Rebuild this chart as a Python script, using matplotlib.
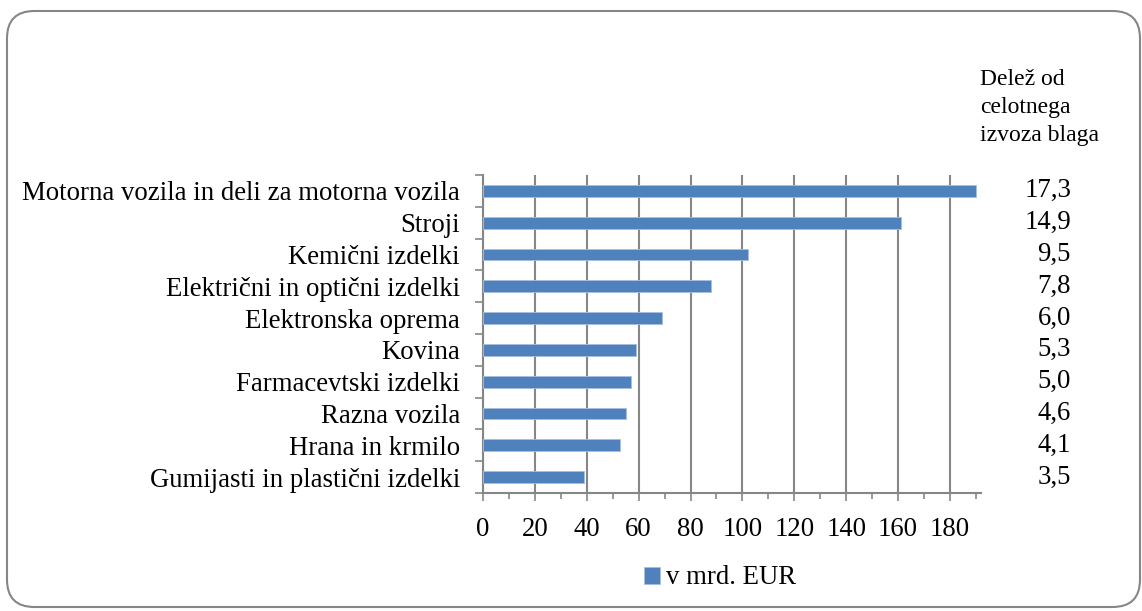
import matplotlib
matplotlib.use("Agg")
import matplotlib.pyplot as plt
import matplotlib.transforms as mtransforms
from matplotlib.patches import FancyBboxPatch
import numpy as np

categories = ["Motorna vozila in deli za motorna vozila", "Stroji", "Kemični izdelki",
              "Električni in optični izdelki", "Elektronska oprema", "Kovina",
              "Farmacevtski izdelki", "Razna vozila", "Hrana in krmilo",
              "Gumijasti in plastični izdelki"]
values = [190, 161, 102, 88, 69, 59, 57, 55, 53, 39]
shares = ["17,3", "14,9", "9,5", "7,8", "6,0", "5,3", "5,0", "4,6", "4,1", "3,5"]
xticks = [0, 20, 40, 60, 80, 100, 120, 140, 160, 180]
legend_label = "v mrd. EUR"
share_header = "Delež od\ncelotnega\nizvoza blaga"

plt.rcParams['font.family'] = ['Liberation Serif', 'DejaVu Serif']

W, H = 1142, 611
fig = plt.figure(figsize=(W/100, H/100), dpi=100)

# rounded border
border = FancyBboxPatch((7/W, 4/H), (1140-7)/W, (H-11-4)/H,
                        boxstyle="round,pad=0,rounding_size=0.024",
                        transform=fig.transFigure, facecolor='white',
                        edgecolor='#868686', linewidth=1.5, mutation_aspect=W/H,
                        zorder=-10)
fig.patches.append(border)

left, right, top, bottom = 483/W, 981/W, 1-175/H, 1-493/H
ax = fig.add_axes([left, bottom, right-left, top-bottom])
ax.set_facecolor('none')
ax.set_zorder(5)

n = len(categories)
y = np.arange(n)[::-1]
bar_color = '#4F81BD'
ax.barh(y, values, height=0.37, color=bar_color, edgecolor='#A7C0DE', linewidth=0.6,
        label=legend_label, zorder=3)
ax.set_xlim(0, 192)
ax.set_ylim(-0.5, n-0.5)

gridc = '#868686'
fs = 19.3
ax.set_xticks(xticks)
ax.set_xticks(np.arange(10, 191, 10), minor=True)
ax.grid(axis='x', which='major', color=gridc, linewidth=1.5, zorder=1)
ax.set_xticklabels([str(t) for t in xticks], fontsize=fs)
ax.tick_params(axis='x', which='major', length=6, width=1.2, color=gridc, direction='out', pad=11)
ax.tick_params(axis='x', which='minor', length=4, width=1.2, color=gridc, direction='out')

ax.set_yticks(np.arange(-0.5, n, 1.0))
ax.set_yticklabels([])
ax.tick_params(axis='y', which='major', length=6, width=1.2, color=gridc, direction='out')
ax.set_yticks(y, minor=True)
ax.set_yticklabels(categories, minor=True, fontsize=fs)
ax.tick_params(axis='y', which='minor', length=0, pad=16.5)

for s in ['top', 'right']:
    ax.spines[s].set_visible(False)
for s in ['left', 'bottom']:
    ax.spines[s].set_color(gridc)
    ax.spines[s].set_linewidth(1.5)

# share labels
trans = mtransforms.blended_transform_factory(fig.transFigure, ax.transData)
for yi, s in zip(y, shares):
    ax.text(1071/W, yi, s, transform=trans, ha='right', va='center', fontsize=fs, clip_on=False)
fig.text(980/W, 1-69/H, share_header, ha='left', va='top', fontsize=17, linespacing=1.45)

leg = fig.legend(loc='center', bbox_to_anchor=(720/W, 1-578/H), frameon=False, fontsize=fs,
                 handlelength=0.6, handleheight=0.6, handletextpad=0.2)

fig.savefig("out.png", dpi=100)
